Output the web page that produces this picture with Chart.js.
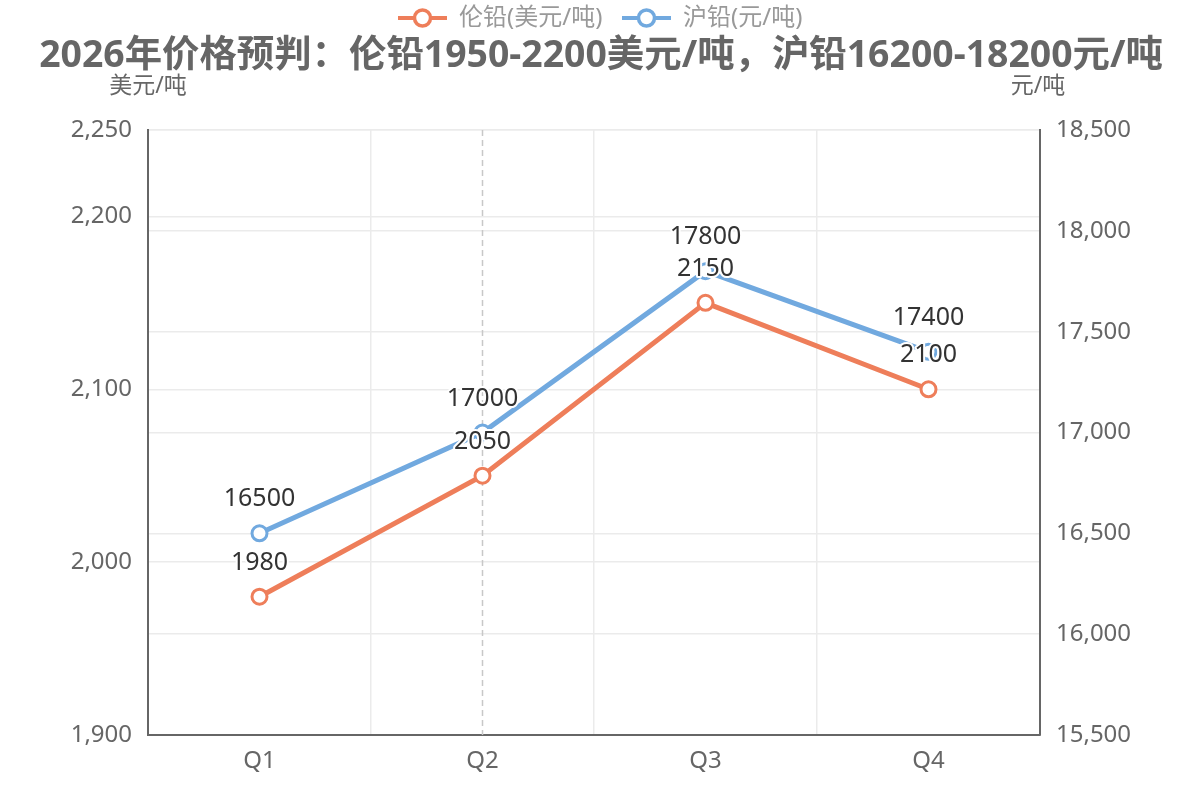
<!DOCTYPE html>
<html>
<head>
<meta charset="utf-8">
<script src="https://cdn.jsdelivr.net/npm/chart.js@4.4.1/dist/chart.umd.min.js"></script>
<style>
  html, body { margin: 0; padding: 0; background: #fff; }
  #wrap { width: 1200px; height: 800px; }
</style>
</head>
<body>
<div id="wrap"><canvas id="chart"></canvas></div>
<script>
const quarters = ["Q1", "Q2", "Q3", "Q4"];
const lmePrices = [1980, 2050, 2150, 2100];
const shfePrices = [16500, 17000, 17800, 17400];
const leftTicks = [1900, 2000, 2100, 2200, 2250];

const FONT = "'Noto Sans', 'Noto Sans CJK SC', sans-serif";
const ORANGE = "#EE7E5A";
const BLUE = "#71A9DF";

// titles, legend, axis names, hover line and value labels
const decorations = {
  id: "decorations",
  beforeDatasetsDraw(chart) {
    const { ctx, chartArea, scales } = chart;
    const x = scales.x.getPixelForValue(1);
    ctx.save();
    ctx.strokeStyle = "#c8c8c8";
    ctx.lineWidth = 1.5;
    ctx.setLineDash([6, 4]);
    ctx.beginPath();
    ctx.moveTo(x, chartArea.top);
    ctx.lineTo(x, chartArea.bottom);
    ctx.stroke();
    ctx.restore();
  },
  afterDraw(chart) {
    const { ctx } = chart;
    ctx.save();
    ctx.textBaseline = "middle";

    ctx.fillStyle = "#666";
    ctx.font = "bold 37.4px " + FONT;
    ctx.textAlign = "center";
    ctx.fillText("2026年价格预判：伦铅1950-2200美元/吨，沪铅16200-18200元/吨", 601, 56);

    ctx.font = "23px " + FONT;
    ctx.fillText("美元/吨", 148, 86);
    ctx.fillText("元/吨", 1038, 86);

    const items = [
      { text: "伦铅(美元/吨)", color: ORANGE, x: 398 },
      { text: "沪铅(元/吨)", color: BLUE, x: 622 },
    ];
    ctx.textAlign = "left";
    ctx.font = "24px " + FONT;
    items.forEach((it) => {
      ctx.strokeStyle = it.color;
      ctx.lineWidth = 4;
      ctx.beginPath();
      ctx.moveTo(it.x, 18);
      ctx.lineTo(it.x + 49, 18);
      ctx.stroke();
      ctx.beginPath();
      ctx.arc(it.x + 24.5, 18, 8, 0, Math.PI * 2);
      ctx.fillStyle = "#fff";
      ctx.fill();
      ctx.lineWidth = 3.5;
      ctx.stroke();
      ctx.fillStyle = "#999";
      ctx.fillText(it.text, it.x + 61, 18);
    });

    ctx.font = "25px " + FONT;
    ctx.textAlign = "center";
    ctx.lineJoin = "round";
    chart.data.datasets.forEach((ds, i) => {
      chart.getDatasetMeta(i).data.forEach((pt, j) => {
        const y = pt.y - 34;
        ctx.strokeStyle = "#fff";
        ctx.lineWidth = 4;
        ctx.strokeText(String(ds.data[j]), pt.x, y);
        ctx.fillStyle = "#333";
        ctx.fillText(String(ds.data[j]), pt.x, y);
      });
    });
    ctx.restore();
  },
};

const data = {
  labels: quarters,
  datasets: [
    {
      label: "伦铅(美元/吨)",
      data: lmePrices,
      yAxisID: "y",
      borderColor: ORANGE,
      borderWidth: 5,
      pointRadius: 7.5,
      pointBorderWidth: 3,
      pointBackgroundColor: "#fff",
      pointBorderColor: ORANGE,
      tension: 0,
    },
    {
      label: "沪铅(元/吨)",
      data: shfePrices,
      yAxisID: "y1",
      borderColor: BLUE,
      borderWidth: 5,
      pointRadius: 7.5,
      pointBorderWidth: 3,
      pointBackgroundColor: "#fff",
      pointBorderColor: BLUE,
      tension: 0,
    },
  ],
};

const tickFont = { family: FONT, size: 24 };

const config = {
  type: "line",
  data: data,
  options: {
    responsive: true,
    maintainAspectRatio: false,
    animation: false,
    layout: { padding: { top: 130, left: 0, right: 0, bottom: 0 } },
    scales: {
      x: {
        offset: true,
        grid: { offset: true, color: "#ebebeb", lineWidth: 1.5, drawTicks: false },
        border: { color: "#666", width: 2 },
        ticks: { color: "#666", font: tickFont, padding: 12 },
        afterFit(scale) {
          scale.height = 65;
        },
      },
      y: {
        position: "left",
        min: 1900,
        max: 2250,
        grid: { color: "#ebebeb", lineWidth: 1.5, drawTicks: false },
        border: { color: "#666", width: 2 },
        afterBuildTicks(scale) {
          scale.ticks = leftTicks.map((v) => ({ value: v }));
        },
        ticks: {
          color: "#666",
          font: tickFont,
          padding: 16,
          callback: (v) => v.toLocaleString("en-US"),
        },
        afterFit(scale) {
          scale.width = 148;
        },
      },
      y1: {
        position: "right",
        min: 15500,
        max: 18500,
        grid: { color: "#ebebeb", lineWidth: 1.5, drawTicks: false },
        border: { color: "#666", width: 2 },
        ticks: {
          stepSize: 500,
          color: "#666",
          font: tickFont,
          padding: 16,
          callback: (v) => v.toLocaleString("en-US"),
        },
        afterFit(scale) {
          scale.width = 160;
        },
      },
    },
    plugins: {
      legend: { display: false },
      title: { display: false },
      tooltip: { enabled: false },
    },
  },
  plugins: [decorations],
};

new Chart(document.getElementById("chart"), config);
</script>
</body>
</html>
